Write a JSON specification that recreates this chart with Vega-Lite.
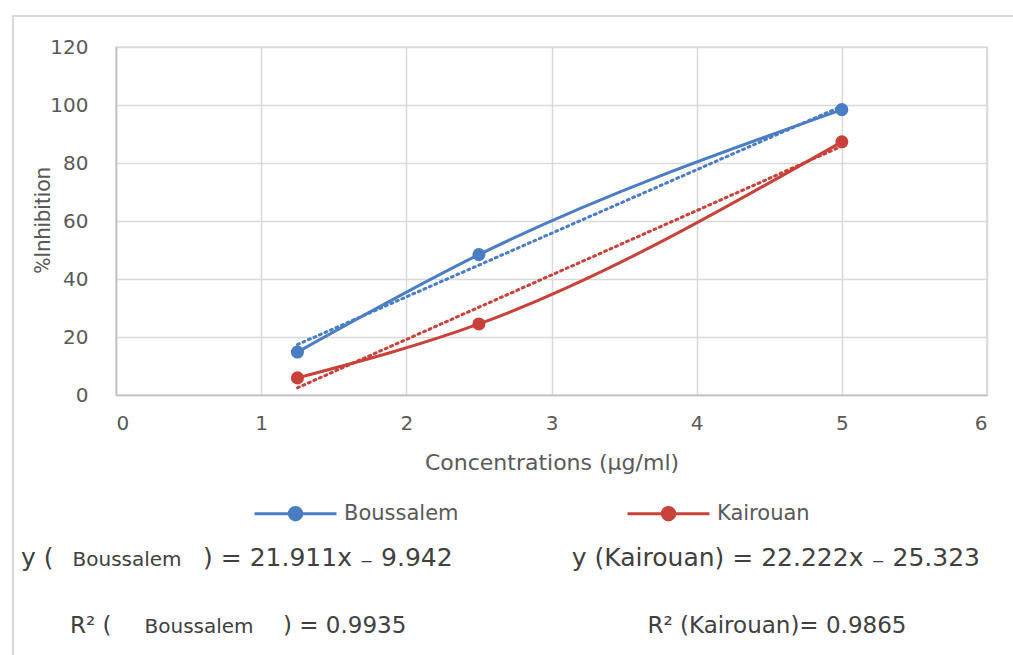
{
  "$schema": "https://vega.github.io/schema/vega-lite/v6.json",
  "width": 871,
  "height": 348,
  "autosize": {"type": "none"},
  "padding": {"left": 116, "top": 47, "right": 26, "bottom": 260},
  "background": "white",
  "config": {
    "view": {"stroke": "#d9d9d9", "strokeWidth": 1.5},
    "axis": {
      "labelFont": "DejaVu Sans",
      "labelColor": "#595959",
      "labelFontSize": 20,
      "titleFont": "DejaVu Sans",
      "titleColor": "#595959",
      "titleFontWeight": "normal",
      "grid": true,
      "gridColor": "#d9d9d9",
      "gridWidth": 1.5,
      "domainColor": "#bfbfbf",
      "domainWidth": 1.5,
      "ticks": false
    }
  },
  "datasets": {
    "measured": [
      {"series": "Boussalem", "conc": 1.25, "inhib": 14.8},
      {"series": "Boussalem", "conc": 2.5, "inhib": 48.4},
      {"series": "Boussalem", "conc": 5, "inhib": 98.4},
      {"series": "Kairouan", "conc": 1.25, "inhib": 5.9},
      {"series": "Kairouan", "conc": 2.5, "inhib": 24.5},
      {"series": "Kairouan", "conc": 5, "inhib": 87.3}
    ],
    "trend": [
      {"series": "Boussalem", "conc": 1.25, "fit": 17.4},
      {"series": "Boussalem", "conc": 5, "fit": 99.6},
      {"series": "Kairouan", "conc": 1.25, "fit": 2.5},
      {"series": "Kairouan", "conc": 5, "fit": 85.8}
    ]
  },
  "layer": [
    {
      "data": {"name": "measured"},
      "mark": {"type": "line", "strokeWidth": 3, "interpolate": "monotone"},
      "encoding": {
        "x": {
          "field": "conc", "type": "quantitative",
          "scale": {"domain": [0, 6], "nice": false},
          "axis": {"values": [0, 1, 2, 3, 4, 5, 6], "format": "d", "grid": true, "labelPadding": 18, "title": "Concentrations (µg/ml)", "titleFontSize": 22, "titleY": 67, "titleBaseline": "middle"}
        },
        "y": {
          "field": "inhib", "type": "quantitative",
          "scale": {"domain": [0, 120], "nice": false},
          "axis": {"values": [0, 20, 40, 60, 80, 100, 120], "format": "d", "grid": true, "labelPadding": 28, "title": "%Inhibition", "titleFont": "Liberation Sans Narrow, Roboto", "titleFontSize": 22, "titleX": -74, "titleY": 173, "titleAngle": 270, "titleAlign": "center", "titleBaseline": "middle"}
        },
        "color": {
          "field": "series", "type": "nominal",
          "scale": {"domain": ["Boussalem", "Kairouan"], "range": ["#4a7dc4", "#c9413b"]},
          "legend": {
            "title": null,
            "orient": "none",
            "legendX": 169,
            "legendY": 456,
            "direction": "horizontal",
            "symbolType": "M-8.2,0H8.2M-1.25,0A1.25,1.25,0,1,1,1.25,0A1.25,1.25,0,1,1,-1.25,0Z",
            "symbolSize": 100,
            "symbolStrokeWidth": 3,
            "labelOffset": 38,
            "columnPadding": 162,
            "labelFont": "DejaVu Sans",
            "labelFontSize": 21,
            "labelColor": "#595959"
          }
        }
      }
    },
    {
      "data": {"name": "trend"},
      "mark": {"type": "line", "strokeWidth": 3, "strokeDash": [2, 4], "strokeCap": "round"},
      "encoding": {
        "x": {"field": "conc", "type": "quantitative"},
        "y": {"field": "fit", "type": "quantitative"},
        "color": {"field": "series", "type": "nominal"},
        "detail": {"field": "series"}
      }
    },
    {
      "data": {"name": "measured"},
      "mark": {"type": "point", "filled": true, "size": 170, "opacity": 1},
      "encoding": {
        "x": {"field": "conc", "type": "quantitative"},
        "y": {"field": "inhib", "type": "quantitative"},
        "color": {"field": "series", "type": "nominal"}
      }
    },
    {
      "data": {"values": [{"frame": "outer"}]},
      "mark": {"type": "rect", "fill": null, "stroke": "#d9d9d9", "strokeWidth": 2, "clip": false},
      "encoding": {
        "x": {"datum": -0.71, "type": "quantitative"},
        "x2": {"datum": 6.4},
        "y": {"datum": 130.7, "type": "quantitative"},
        "y2": {"datum": -95}
      }
    },
    {
      "data": {"values": [{"label": "y ("}]},
      "mark": {"type": "text", "align": "left", "baseline": "alphabetic", "font": "DejaVu Sans", "fontSize": 25, "color": "#404040", "clip": false},
      "encoding": {"x": {"datum": -0.655, "type": "quantitative"}, "y": {"datum": -59, "type": "quantitative"}, "text": {"field": "label"}}
    },
    {
      "data": {"values": [{"label": "Boussalem"}]},
      "mark": {"type": "text", "align": "center", "baseline": "alphabetic", "font": "DejaVu Sans", "fontSize": 20, "color": "#404040", "clip": false},
      "encoding": {"x": {"datum": 0.076, "type": "quantitative"}, "y": {"datum": -59, "type": "quantitative"}, "text": {"field": "label"}}
    },
    {
      "data": {"values": [{"label": ") = 21.911x ₋ 9.942"}]},
      "mark": {"type": "text", "align": "left", "baseline": "alphabetic", "font": "DejaVu Sans", "fontSize": 25, "color": "#404040", "clip": false},
      "encoding": {"x": {"datum": 0.6, "type": "quantitative"}, "y": {"datum": -59, "type": "quantitative"}, "text": {"field": "label"}}
    },
    {
      "data": {"values": [{"label": "y (Kairouan) = 22.222x ₋ 25.323"}]},
      "mark": {"type": "text", "align": "center", "baseline": "alphabetic", "font": "DejaVu Sans", "fontSize": 25, "color": "#404040", "clip": false},
      "encoding": {"x": {"datum": 4.546, "type": "quantitative"}, "y": {"datum": -59, "type": "quantitative"}, "text": {"field": "label"}}
    },
    {
      "data": {"values": [{"label": "R² ("}]},
      "mark": {"type": "text", "align": "left", "baseline": "alphabetic", "font": "DejaVu Sans", "fontSize": 23, "color": "#404040", "clip": false},
      "encoding": {"x": {"datum": -0.317, "type": "quantitative"}, "y": {"datum": -82, "type": "quantitative"}, "text": {"field": "label"}}
    },
    {
      "data": {"values": [{"label": "Boussalem"}]},
      "mark": {"type": "text", "align": "center", "baseline": "alphabetic", "font": "DejaVu Sans", "fontSize": 20, "color": "#404040", "clip": false},
      "encoding": {"x": {"datum": 0.572, "type": "quantitative"}, "y": {"datum": -82, "type": "quantitative"}, "text": {"field": "label"}}
    },
    {
      "data": {"values": [{"label": ") = 0.9935"}]},
      "mark": {"type": "text", "align": "left", "baseline": "alphabetic", "font": "DejaVu Sans", "fontSize": 23, "color": "#404040", "clip": false},
      "encoding": {"x": {"datum": 1.15, "type": "quantitative"}, "y": {"datum": -82, "type": "quantitative"}, "text": {"field": "label"}}
    },
    {
      "data": {"values": [{"label": "R² (Kairouan)= 0.9865"}]},
      "mark": {"type": "text", "align": "center", "baseline": "alphabetic", "font": "DejaVu Sans", "fontSize": 23, "color": "#404040", "clip": false},
      "encoding": {"x": {"datum": 4.553, "type": "quantitative"}, "y": {"datum": -82, "type": "quantitative"}, "text": {"field": "label"}}
    }
  ]
}
